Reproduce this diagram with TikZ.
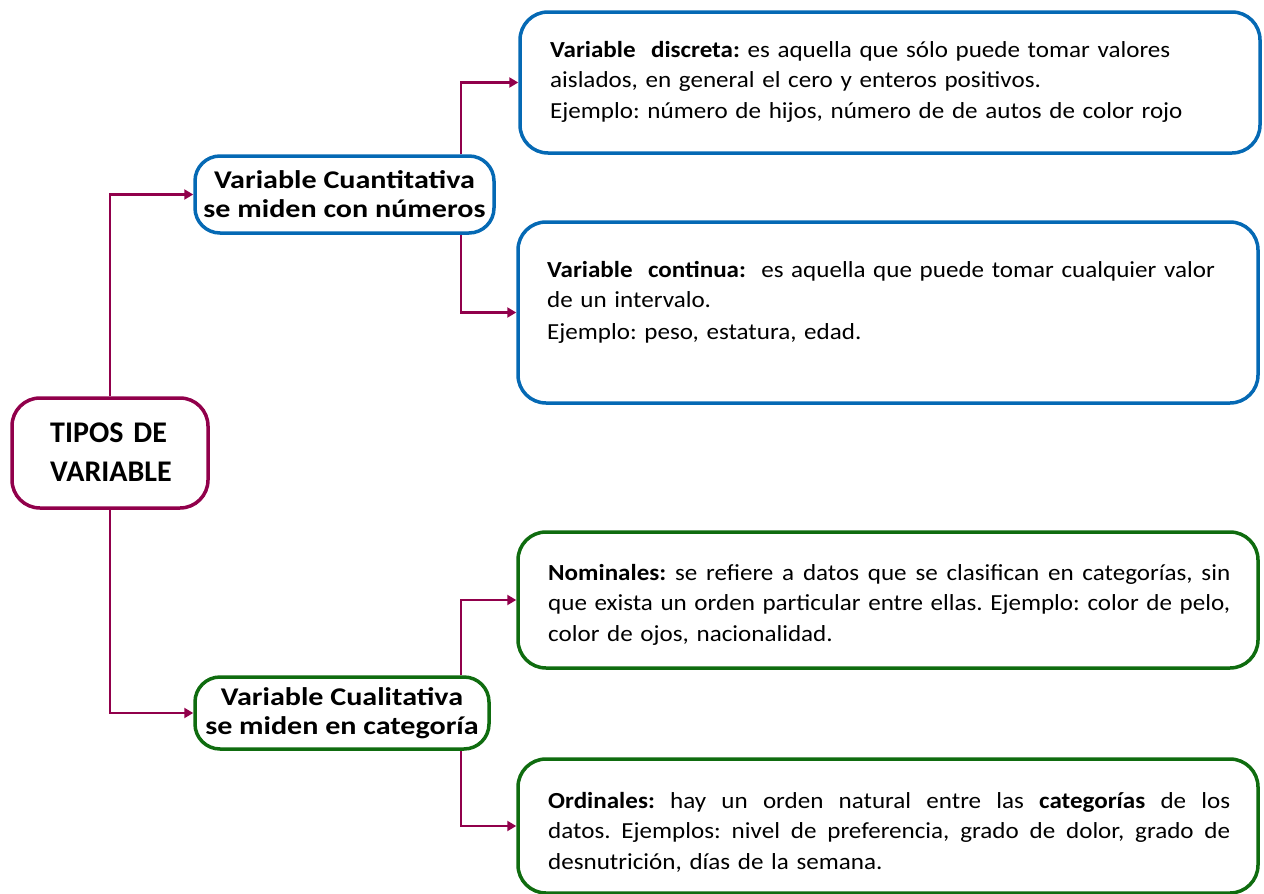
\documentclass[tikz,border=0pt]{standalone}
\usepackage{fontspec}
\setmainfont{Carlito}[FakeStretch=1.09]
\newfontfamily\midfont{Carlito}[FakeStretch=1.18]
\newfontfamily\tipfont{Carlito}
\usetikzlibrary{arrows.meta}
\definecolor{crim}{RGB}{145,0,75}
\definecolor{bluebx}{RGB}{5,105,180}
\definecolor{greenbx}{RGB}{15,108,15}
\newcommand{\jline}[1]{\leavevmode\hbox to 682pt{\spaceskip=.24em plus 10em\relax #1}}
\begin{document}
\begin{tikzpicture}[x=1pt,y=-1pt,
  box/.style={draw, line width=3.5pt, fill=white, inner sep=0pt, rounded corners=28pt},
  conn/.style={draw=crim, line width=2.2pt, -{Triangle[length=9pt,width=10pt]}},
  body/.style={anchor=base west, inner sep=0pt, text width=700pt, align=left, font=\fontsize{23}{30.5}\selectfont\frenchspacing},
  mid/.style={align=center, inner sep=0pt, font=\midfont\bfseries\fontsize{25.5}{29}\selectfont}
]
\useasboundingbox (0,0) rectangle (1264,894);
\coordinate (jx) at (461,0);
% boxes
\node[box, draw=crim, minimum width=196pt, minimum height=110pt] (tipos) at (110,453) {};
\node[box, draw=bluebx, minimum width=299pt, minimum height=77pt, rounded corners=25pt] (cuan) at (344.5,194.5) {};
\node[box, draw=greenbx, minimum width=294pt, minimum height=72pt, rounded corners=25pt] (cual) at (342,713) {};
\node[box, draw=bluebx, minimum width=740pt, minimum height=141pt] (disc) at (890,82.5) {};
\node[box, draw=bluebx, minimum width=740pt, minimum height=181pt] (cont) at (888,312.5) {};
\node[box, draw=greenbx, minimum width=740pt, minimum height=136pt] (nom) at (888,600) {};
\node[box, draw=greenbx, minimum width=740pt, minimum height=134pt] (ord) at (888,826) {};
% connectors
\draw[conn] (tipos.north) |- (cuan.west);
\draw[conn] (tipos.south) |- (cual.west);
\draw[conn] (cuan.north -| jx) |- (disc.west);
\draw[conn] (cuan.south -| jx) |- (cont.west);
\draw[conn] (cual.north -| jx) |- (nom.west);
\draw[conn] (cual.south -| jx) |- (ord.west);
% texts
\node[anchor=base west, inner sep=0pt, text width=150pt, align=left, font=\tipfont\bfseries\fontsize{30}{39}\selectfont] (tiposT) at (50,442) {TIPOS DE\\VARIABLE};
\node[mid] (cuanT) at (cuan.center) {Variable Cuantitativa\\se miden con números};
\node[mid] (cualT) at (cual.center) {Variable Cualitativa\\se miden en categoría};
\node[body] (discT) at (550,57) {\textbf{Variable\ \ discreta:} es aquella que sólo puede tomar valores\\aislados, en general el cero y enteros positivos.\\Ejemplo: número de hijos, número de de autos de color rojo};
\node[body] (contT) at (547,277) {\textbf{Variable\ \ continua:}\ \ es aquella que puede tomar cualquier valor\\de un intervalo.\\[1pt]Ejemplo: peso, estatura, edad.};
\node[body] (nomT) at (548,580) {\jline{\textbf{Nominales:} se refiere a datos que se clasifican en categorías, sin}\\\jline{que exista un orden particular entre ellas. Ejemplo: color de pelo,}\\color de ojos, nacionalidad.};
\node[body] (ordT) at (548,808) {\jline{\textbf{Ordinales:} hay un orden natural entre las \textbf{categorías} de los}\\\jline{datos. Ejemplos: nivel de preferencia, grado de dolor, grado de}\\desnutrición, días de la semana.};
\end{tikzpicture}
\end{document}
